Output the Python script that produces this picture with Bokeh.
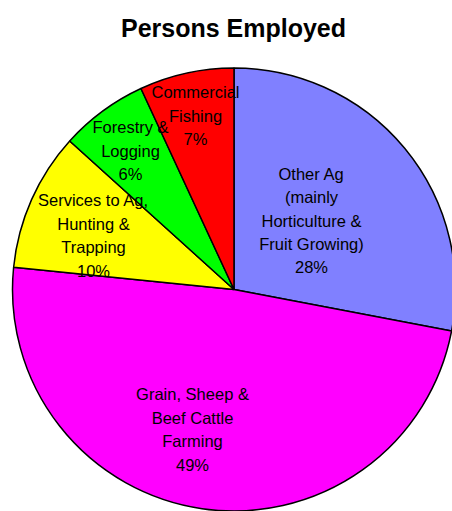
import math
from bokeh.plotting import figure
from bokeh.models import Range1d, ColumnDataSource
from bokeh.core.properties import value
from bokeh.embed import file_html
from bokeh.resources import INLINE

# ---- data ----
title = "Persons Employed"
categories = ["Other Ag (mainly Horticulture & Fruit Growing)",
              "Grain, Sheep & Beef Cattle Farming",
              "Services to Ag, Hunting & Trapping",
              "Forestry & Logging",
              "Commercial Fishing"]
label_lines = [["Other Ag", "(mainly", "Horticulture &", "Fruit Growing)"],
               ["Grain, Sheep &", "Beef Cattle", "Farming"],
               ["Services to Ag,", "Hunting &", "Trapping"],
               ["Forestry &", "Logging"],
               ["Commercial", "Fishing"]]
shares = [28.0, 48.6, 10.1, 6.4, 6.9]
colors = ["#8080FF", "#FF00FF", "#FFFF00", "#00FF00", "#FF0000"]

# ---- layout (page pixel coordinates, y measured downwards) ----
W, H = 452, 511
cx, cy_page, R = 233.5, 289, 221.5
label_centers = [(311, 220), (192, 429), (93, 235), (130, 150), (195, 115)]
line_gap = 23.4


def ydata(py):
    return H - py


p = figure(width=W, height=H, output_backend="svg", toolbar_location=None,
           x_range=Range1d(0, W), y_range=Range1d(0, H),
           min_border=0, outline_line_color=None)
p.axis.visible = False
p.grid.visible = False
p.background_fill_color = "white"
p.border_fill_color = "white"

total = sum(shares)
starts, ends = [], []
a = math.pi / 2
for s in shares:
    sweep = 2 * math.pi * s / total
    starts.append(a)
    a -= sweep
    ends.append(a)

src = ColumnDataSource(dict(x=[cx] * len(shares), y=[ydata(cy_page)] * len(shares),
                            start=starts, end=ends, color=colors, cat=categories))
p.wedge(x="x", y="y", radius=R, start_angle="start", end_angle="end",
        direction="clock", fill_color="color", line_color="black",
        line_width=1.5, source=src)

tx, ty, tt = [], [], []
for lines, s, (lx, ly) in zip(label_lines, shares, label_centers):
    all_lines = lines + [f"{100 * s / total:.0f}%"]
    n = len(all_lines)
    for i, t in enumerate(all_lines):
        tx.append(lx)
        ty.append(ydata(ly + (i - (n - 1) / 2) * line_gap))
        tt.append(t)

p.text(x=tx, y=ty, text=tt, text_align="center", text_baseline="middle",
       text_font=value("Liberation Sans"), text_font_size="16.5px",
       text_color="black")

p.text(x=[233], y=[ydata(27)], text=[title], text_align="center",
       text_baseline="middle", text_font=value("Liberation Sans"),
       text_font_size="25px", text_font_style="bold", text_color="black")

open("out.html", "w").write(file_html(p, INLINE))
